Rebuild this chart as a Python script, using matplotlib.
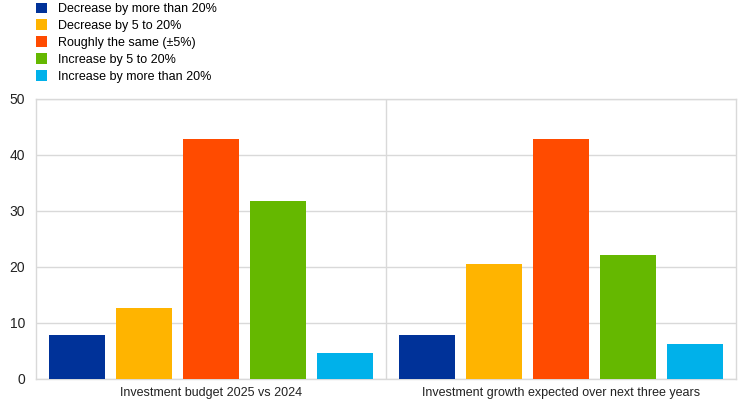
import numpy as np
import matplotlib.pyplot as plt

plt.rcParams['font.family'] = ['Liberation Sans', 'DejaVu Sans']

groups = ["Investment budget 2025 vs 2024", "Investment growth expected over next three years"]
series = ["Decrease by more than 20%", "Decrease by 5 to 20%", "Roughly the same (\u00b15%)",
          "Increase by 5 to 20%", "Increase by more than 20%"]
values = [
    [7.9, 7.9],
    [12.7, 20.6],
    [42.9, 42.9],
    [31.8, 22.2],
    [4.7, 6.3],
]
colors = ["#003299", "#FFB400", "#FF4B00", "#65B800", "#00B1EA"]

fig = plt.figure(figsize=(7.42, 4.04), dpi=100)
ax = fig.add_axes([36 / 742, 25 / 404, 700 / 742, 280 / 404])

x = np.arange(len(groups))
step = 0.1914
width = 0.16
for i, (name, vals) in enumerate(zip(series, values)):
    ax.bar(x + (i - 2) * step, vals, width=width, color=colors[i], label=name, zorder=3)

ax.set_xlim(-0.5, 1.5)
ax.set_ylim(0, 50)
ax.set_yticks(range(0, 51, 10))
ax.set_xticks(x)
ax.set_xticklabels(groups)
ax.tick_params(axis='both', length=0, colors='#222222')
ax.tick_params(axis='y', labelsize=10, pad=8)
ax.tick_params(axis='x', labelsize=9, pad=6)
ax.grid(axis='y', color='#d9d9d9', linewidth=1, zorder=0)
ax.axvline(0.5, color='#d9d9d9', linewidth=1, zorder=0)
for s in ax.spines.values():
    s.set_color('#d9d9d9')
    s.set_linewidth(1)

fig.legend(loc='upper left', bbox_to_anchor=(28 / 742, 1.012), frameon=False, fontsize=9,
           handlelength=0.95, handleheight=0.95, handletextpad=0.85, labelspacing=0.33,
           borderaxespad=0.2)

fig.savefig("out.png", dpi=100)
